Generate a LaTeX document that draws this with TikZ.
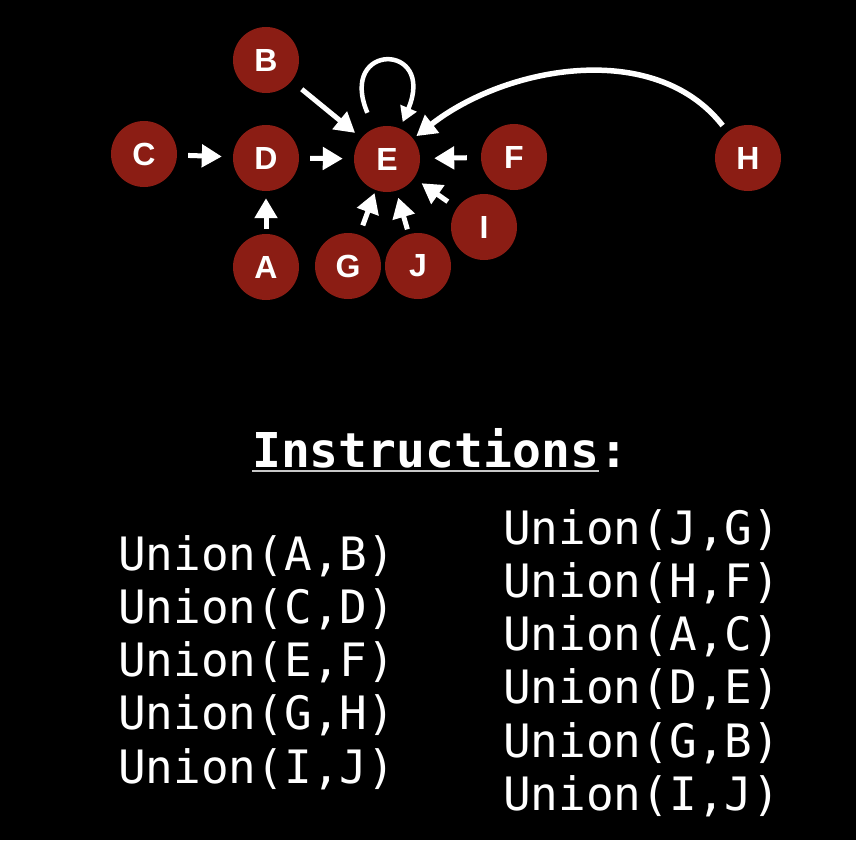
\documentclass[tikz,border=0pt]{standalone}
\usepackage{fontspec}
\usetikzlibrary{arrows.meta,positioning}
\newfontfamily\labelfont{Liberation Sans}
\newfontfamily\codefont{DejaVu Sans Mono}
\definecolor{setred}{RGB}{139,29,20}
\definecolor{rulegray}{RGB}{200,200,200}

\begin{document}
\begin{tikzpicture}[x=1pt,y=1pt]
\tikzstyle{set}=[circle, fill=setred, minimum size=66pt, inner sep=0pt, text=white, font=\labelfont\bfseries\fontsize{32}{32}\selectfont]
\tikzstyle{link}=[draw=white, line width=5pt, -{Triangle[length=20pt,width=22pt]}, shorten <=11pt, shorten >=11pt]
\tikzstyle{heading}=[text=white, inner sep=0pt, anchor=base west, font=\codefont\bfseries\fontsize{48}{48}\selectfont]
\tikzstyle{op}=[text=white, inner sep=0pt, anchor=base west, font=\codefont\fontsize{46}{46}\selectfont]

\fill[black] (0,0) rectangle (856,-840);
\useasboundingbox (0,0) rectangle (856,-840);

% the sets
\node[set] (B) at (266,-60) {B};
\node[set] (C) at (144,-154) {C};
\node[set] (D) at (266,-158) {D};
\node[set] (E) at (387,-159) {E};
\node[set] (F) at (514,-157) {F};
\node[set] (H) at (748,-158) {H};
\node[set] (A) at (266,-267) {A};
\node[set] (G) at (348,-266) {G};
\node[set] (J) at (418,-266) {J};
\node[set] (I) at (484,-227) {I};

% parent links
\draw[link] (C) -- (D);
\draw[link] (D) -- (E);
\draw[link, shorten <=14pt, shorten >=14pt] (F) -- (E);
\draw[link, shorten <=13pt, shorten >=8pt] (B) -- (E);
\draw[link, shorten <=5pt, shorten >=7pt] (A) -- (D);
\draw[link, shorten <=10pt, shorten >=3pt] (G) -- (E);
\draw[link, shorten <=5pt, shorten >=7pt] (J) -- (E);
\draw[link, shorten <=11pt, shorten >=9pt] (I) -- (E);
\draw[link, line width=5.5pt, shorten <=8pt, shorten >=4pt] (H) to[out=128, in=38, distance=118pt] (E);
\draw[link, line width=4.5pt, -{Triangle[length=15pt,width=17pt]}, shorten <=17pt, shorten >=7pt] (E) to[out=113, in=67, distance=94pt] (E);

% instructions
\node[heading] (instr) at (252,-467) {Instructions};
\node[heading] (colon) at (instr.base east) {:};
\draw[rulegray, line width=2pt] ([yshift=-4pt]instr.base west) -- ([yshift=-4pt]instr.base east);

\node[op] (uAB) at (118,-570) {Union(A,B)};
\node[op] (uCD) at ([yshift=-53.25pt]uAB.base west) {Union(C,D)};
\node[op] (uEF) at ([yshift=-53.25pt]uCD.base west) {Union(E,F)};
\node[op] (uGH) at ([yshift=-53.25pt]uEF.base west) {Union(G,H)};
\node[op] (uIJ) at ([yshift=-53.25pt]uGH.base west) {Union(I,J)};

\node[op] (uJG) at (503,-544) {Union(J,G)};
\node[op] (uHF) at ([yshift=-53.25pt]uJG.base west) {Union(H,F)};
\node[op] (uAC) at ([yshift=-53.25pt]uHF.base west) {Union(A,C)};
\node[op] (uDE) at ([yshift=-53.25pt]uAC.base west) {Union(D,E)};
\node[op] (uGB) at ([yshift=-53.25pt]uDE.base west) {Union(G,B)};
\node[op] (uIJb) at ([yshift=-53.25pt]uGB.base west) {Union(I,J)};

\end{tikzpicture}
\end{document}
